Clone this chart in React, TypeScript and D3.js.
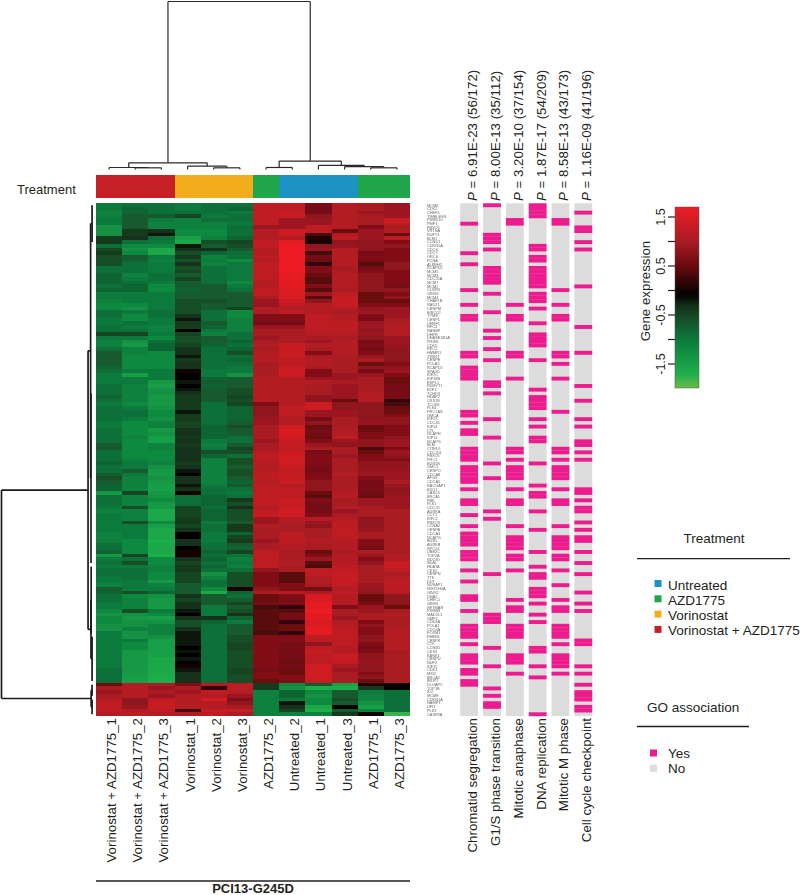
import * as d3 from 'd3';

const sampleLabels = [
  'Vorinostat + AZD1775_1', 'Vorinostat + AZD1775_2', 'Vorinostat + AZD1775_3',
  'Vorinostat_1', 'Vorinostat_2', 'Vorinostat_3',
  'AZD1775_2', 'Untreated_2', 'Untreated_1', 'Untreated_3', 'AZD1775_1', 'AZD1775_3'
];
const sampleTreatment = ['combo', 'combo', 'combo', 'vor', 'vor', 'vor', 'azd', 'unt', 'unt', 'unt', 'azd', 'azd'];

const treatmentKeys = ['unt', 'azd', 'vor', 'combo'];
const treatmentNames = ['Untreated', 'AZD1775', 'Vorinostat', 'Vorinostat + AZD1775'];
const treatmentColors = ['#1c93c2', '#1fa64b', '#f3ad1c', '#c61f26'];

const geneLabels = [
  'MCM6', 'CDK2', 'CHEK1', 'TIMELESS', 'PSMD10', 'PMF1', 'FBXO5', 'VRTNA', 'RUFY1', 'BLM1', 'CCND1', 'CDKN1A', 'CDC6', 'CDC7',
  'ORC6', 'PCNA', 'ALKBH2', 'RCAPD2', 'MCM5', 'MCM3', 'CDC25A', 'MCM7', 'MCM2', 'CLSPN', 'GINS3', 'MCM4', 'CHAF1B', 'RAD21',
  'CENPM', 'BIRC02', 'TYMS', 'CENP1', 'UHRF1', 'RFC3', 'RANBP', 'DHFR', 'DNASE2B1A', 'PRIM1', 'CDK5', 'RFC2', 'HMMR1', 'ZWINT',
  'CENPE', 'POLA2', 'RCAPD2', 'SPAG5', 'KIF2C', 'KIF18B', 'ESPL1', 'PKMYT1', 'E2F1', 'TCHD3', 'HDAP2', 'CKS1B', 'TCOB1', 'PLK4',
  'PRC1AS', 'GMCA', 'KIF23', 'CDC45', 'KIF14', 'CTL', 'NCAPH', 'KIF11', 'NCAPG', 'BLM', 'CITED1', 'CDC20L', 'FBXO5', 'PRC1',
  'BUB1B', 'GMC1', 'CENPO', 'CDCA8', 'AFG3', 'CDCA5', 'RACGAP1', 'EXO1', 'CASC5', 'BRCA1', 'PBK', 'PLK1', 'CDC25', 'AURKA',
  'CCT1', 'KIFC1', 'FBXO9', 'CCNA2', 'CENPA', 'CDCA3', 'NCAPG', 'BUB1', 'AURKB', 'SPC24', 'UBE2C', 'TOP2A', 'NDC80', 'SKA1',
  'HDATA', 'CKS2', 'CENPN', 'TTK', 'DUT', 'NUSAP1', 'HIST1H4A', 'GINS2', 'DNA2', 'CHEC1', 'GINS1', 'SETMAR', 'PSMB9', 'MAD2L1',
  'GMF1', 'CDK4A', 'POLA1', 'CDC6A', 'FOXM1', 'RHEB1', 'CENPK', 'CTK', 'CCNB1', 'CKS3', 'KANK1', 'CENPU', 'NUF2', 'KIF15',
  'CDK1', 'MSI2', 'BRCA2', 'BRIP1', 'DLGAP5', 'TOP1B', 'ID2', 'MCM8', 'CDKN1A', 'NAMPT', 'UFI1', 'PLK3', 'CASP8A', 'AGXE'
].slice(0, 139);

// expression values x10, one row per gene, columns in sampleLabels order
const heatValues = [
  [-10,-9,-9,-10,-9,-9,12,12,6,11,10,9],
  [-10,-8,-9,-10,-9,-8,12,12,6,11,10,9],
  [-11,-8,-9,-9,-9,-10,12,13,6,11,9,9],
  [-11,-7,-7,-5,-10,-9,12,13,8,11,10,9],
  [-10,-7,-10,-11,-9,-9,12,9,9,11,10,13],
  [-10,-7,-11,-11,-11,-10,12,9,9,11,10,13],
  [-13,-7,-11,-11,-11,-9,9,9,12,11,7,10],
  [-13,-4,-3,-12,-12,-9,11,14,12,5,9,11],
  [-13,-4,-2,-12,-12,-9,11,14,3,11,9,5],
  [-4,-3,-9,-15,-11,-8,11,11,1,12,9,12],
  [-4,-9,-10,-16,-6,-5,12,16,0,8,8,7],
  [-9,-12,-12,-2,-7,-6,12,17,8,9,8,8],
  [-5,-13,-16,-3,-3,-7,11,17,9,11,8,7],
  [-4,-12,-16,-6,-8,-9,11,17,3,11,6,7],
  [-6,-7,-10,-4,-11,-9,12,17,6,11,7,7],
  [-6,-8,-11,-6,-10,-12,11,17,5,11,6,7],
  [-6,-9,-10,-3,-11,-10,12,17,2,11,4,8],
  [-9,-9,-10,-6,-9,-10,12,17,7,10,6,8],
  [-9,-9,-10,-5,-9,-10,12,17,7,10,7,7],
  [-8,-11,-9,-7,-9,-10,12,16,5,11,8,7],
  [-8,-10,-9,-5,-9,-10,12,16,4,11,8,7],
  [-8,-9,-10,-7,-9,-12,11,16,4,11,8,7],
  [-9,-8,-12,-7,-7,-10,11,16,7,11,8,6],
  [-8,-8,-12,-8,-7,-9,12,15,4,10,8,8],
  [-10,-10,-10,-7,-7,-7,12,15,9,12,5,7],
  [-10,-10,-10,-7,-7,-7,10,15,4,13,5,8],
  [-11,-10,-10,-6,-6,-7,9,14,8,13,5,5],
  [-12,-12,-10,-6,-7,-7,9,12,11,13,7,7],
  [-12,-13,-10,-6,-7,-5,11,11,11,11,8,9],
  [-9,-10,-9,-6,-9,-12,10,12,11,10,9,9],
  [-9,-12,-9,-3,-9,-12,7,7,12,11,7,9],
  [-10,-12,-10,-2,-9,-11,7,7,12,11,6,10],
  [-10,-9,-10,-4,-7,-11,6,6,12,12,9,10],
  [-9,-10,-11,-4,-8,-11,9,9,12,12,9,11],
  [-9,-9,-11,-1,-10,-11,10,10,12,12,8,11],
  [-5,-5,-10,-5,-11,-9,10,10,11,11,9,11],
  [-10,-10,-12,-6,-7,-9,9,10,10,10,8,9],
  [-11,-13,-9,-6,-7,-8,10,10,9,11,6,9],
  [-11,-14,-8,-5,-8,-9,11,13,11,11,7,9],
  [-9,-11,-8,-3,-9,-8,10,13,10,11,6,8],
  [-7,-11,-12,-3,-9,-6,11,13,7,11,7,8],
  [-7,-12,-12,-2,-9,-9,11,13,10,10,9,8],
  [-7,-12,-12,-4,-9,-8,11,12,11,10,10,8],
  [-7,-12,-12,-3,-9,-9,10,12,11,10,5,7],
  [-8,-12,-12,-3,-9,-10,10,13,10,10,8,8],
  [-9,-10,-10,0,-10,-10,10,14,7,10,6,9],
  [-10,-15,-10,-1,-10,-13,10,13,7,9,9,7],
  [-10,-10,-10,-1,-8,-7,11,11,9,9,10,5],
  [-10,-10,-14,-2,-7,-7,11,11,11,10,10,5],
  [-9,-11,-15,-1,-8,-7,11,11,10,9,10,6],
  [-9,-11,-13,-2,-7,-6,11,11,10,9,10,6],
  [-9,-11,-13,-3,-7,-6,11,11,10,9,11,6],
  [-8,-11,-14,-4,-7,-5,11,11,8,9,11,6],
  [-9,-11,-14,-4,-7,-6,11,11,8,5,11,2],
  [-10,-12,-14,-4,-9,-5,7,11,14,8,8,3],
  [-9,-10,-13,-4,-9,-8,8,12,14,8,8,5],
  [-9,-9,-12,-2,-9,-8,8,12,9,9,8,5],
  [-9,-9,-12,-4,-9,-8,8,12,9,9,8,7],
  [-9,-10,-13,-4,-9,-8,9,11,6,10,8,8],
  [-10,-12,-11,-5,-9,-7,9,11,8,10,9,8],
  [-10,-12,-11,-5,-8,-6,10,14,5,10,5,7],
  [-9,-12,-14,-3,-8,-7,10,15,6,11,5,7],
  [-9,-12,-13,-3,-8,-7,10,15,6,11,7,7],
  [-9,-11,-15,-4,-8,-9,10,14,5,12,7,8],
  [-9,-12,-15,-3,-10,-9,9,13,7,9,8,9],
  [-7,-12,-11,-4,-11,-7,10,13,9,8,8,9],
  [-7,-12,-11,-3,-10,-5,10,12,10,10,3,7],
  [-9,-12,-12,-3,-6,-6,11,13,6,10,5,9],
  [-9,-12,-12,-3,-8,-9,12,14,7,9,7,8],
  [-9,-11,-12,-3,-11,-6,12,14,7,10,7,7],
  [-8,-10,-11,-4,-11,-6,11,14,7,10,8,8],
  [-9,-10,-13,-3,-11,-7,11,13,6,10,8,8],
  [-9,-7,-14,-2,-11,-6,11,12,6,10,9,9],
  [-7,-10,-14,-1,-11,-6,12,13,7,11,9,9],
  [-6,-11,-13,-3,-11,-7,12,13,7,10,7,9],
  [-7,-11,-14,-3,-11,-8,11,13,8,10,6,10],
  [-8,-11,-15,-2,-10,-7,12,11,8,10,6,9],
  [-8,-11,-15,-3,-9,-9,12,12,8,10,6,8],
  [-14,-5,-14,0,-9,-10,12,12,5,11,6,8],
  [-9,-11,-13,-9,-8,-9,12,12,4,11,5,9],
  [-9,-11,-12,-9,-8,-4,12,13,7,10,9,9],
  [-9,-11,-14,-9,-8,-6,12,13,6,10,9,9],
  [-10,-6,-14,-5,-9,-3,11,13,6,11,10,9],
  [-11,-11,-16,-5,-8,-6,12,14,6,9,10,10],
  [-10,-11,-16,-5,-8,-6,13,14,7,10,10,10],
  [-10,-11,-16,-4,-8,-6,9,11,11,11,8,10],
  [-10,-6,-12,-4,-10,-7,9,11,9,12,8,10],
  [-10,-10,-15,-5,-9,-4,11,10,8,12,8,10],
  [-10,-10,-16,-3,-9,-4,10,10,10,12,9,10],
  [-11,-10,-16,-1,-10,-8,10,12,10,12,10,10],
  [-11,-10,-16,-1,-10,-5,10,12,10,12,10,10],
  [-11,-12,-17,-3,-10,-4,9,12,11,11,7,10],
  [-9,-12,-16,-3,-9,-7,10,11,10,11,7,10],
  [-9,-12,-16,-1,-9,-8,10,11,10,11,6,10],
  [-8,-12,-16,0,-8,-5,12,10,5,10,10,10],
  [-14,-5,-17,0,-9,-9,12,10,7,11,9,11],
  [-10,-9,-12,-3,-8,-11,12,10,9,11,7,11],
  [-9,-6,-12,-5,-9,-10,12,11,4,11,8,13],
  [-10,-10,-11,-4,-8,-11,12,10,3,12,10,13],
  [-9,-9,-11,-4,-9,-9,8,10,12,12,10,12],
  [-9,-9,-12,-5,-13,-6,7,4,12,13,10,10],
  [-10,-9,-12,-5,-11,-6,7,4,11,13,10,11],
  [-10,-10,-14,-5,-9,-6,7,4,11,13,10,12],
  [-11,-10,-11,-7,-9,-6,7,7,10,12,9,12],
  [-7,-10,-10,-7,-12,0,8,7,6,11,9,12],
  [-8,-6,-8,-7,-16,-8,10,11,10,12,8,11],
  [-9,-12,-13,-3,-7,-9,5,7,15,11,5,8],
  [-9,-11,-14,-5,-7,-7,5,6,15,11,5,8],
  [-10,-11,-14,-3,-7,-5,6,7,16,11,6,8],
  [-10,-11,-14,-3,-10,-7,3,2,16,7,9,5],
  [-12,-6,-10,-2,-10,-6,4,4,17,10,9,10],
  [-13,-13,-12,-1,-10,-3,4,6,16,10,10,11],
  [-12,-14,-15,-3,-3,-8,4,6,16,9,10,10],
  [-12,-13,-13,-6,-8,-10,4,2,15,11,7,10],
  [-13,-13,-11,-6,-9,-7,4,5,15,11,8,10],
  [-13,-11,-11,-3,-9,-7,4,5,16,12,7,11],
  [-10,-13,-11,-2,-9,-7,3,2,16,12,7,11],
  [-10,-13,-13,-2,-9,-6,7,7,12,12,8,11],
  [-10,-10,-15,-2,-9,-6,7,7,12,12,8,11],
  [-10,-12,-15,-2,-9,-5,7,6,8,12,7,11],
  [-10,-12,-15,-1,-9,-5,7,6,12,11,6,11],
  [-10,-14,-15,-2,-9,-6,7,6,13,11,7,10],
  [-10,-14,-15,-1,-9,-6,7,6,12,13,8,10],
  [-10,-14,-16,-2,-9,-6,7,6,12,13,8,10],
  [-10,-14,-16,-1,-9,-6,7,5,12,12,9,10],
  [-10,-14,-16,0,-9,-6,7,6,14,10,8,10],
  [-9,-14,-16,-2,-9,-5,6,5,14,9,8,10],
  [-9,-14,-16,-3,-9,-5,7,5,14,10,7,10],
  [-9,-15,-17,-3,-9,-6,7,7,14,10,8,10],
  [-9,-15,-17,-3,-9,-6,5,7,13,10,5,10],
  [5,11,10,7,11,12,-4,-12,-7,-15,1,-1],
  [10,11,9,10,2,12,-4,-13,-17,-17,-4,-1],
  [9,11,10,9,12,11,-11,-8,-12,-7,-10,-9],
  [10,11,9,11,11,9,-11,-8,-13,-7,-11,-9],
  [11,8,12,11,15,7,-11,-10,-12,-6,-11,-9],
  [12,8,13,11,11,8,-11,-2,-12,-7,-13,-9],
  [12,9,13,11,11,10,-11,-3,-16,-1,-15,-9],
  [12,11,12,3,13,13,-11,-5,-17,-7,-11,-9],
  [11,12,11,11,12,10,-11,-11,-11,-4,0,-18]
];

const goTerms = ['Chromatid segregation', 'G1/S phase transition', 'Mitotic anaphase', 'DNA replication', 'Mitotic M phase', 'Cell cycle checkpoint'];
const goPvalues = [
  ' = 6.91E-23 (56/172)', ' = 8.00E-13 (35/112)', ' = 3.20E-10 (37/154)',
  ' = 1.87E-17 (54/209)', ' = 8.58E-13 (43/173)', ' = 1.16E-09 (41/196)'
];
const chromatidRows = [5,13,16,23,27,30,31,40,41,44,45,46,47,56,57,59,61,62,66,67,68,69,71,72,73,74,75,77,80,81,84,87,89,90,91,92,94,95,96,99,102,106,107,110,114,115,116,117,119,122,123,124,126,127,129,130];
const g1sRows = [0,8,9,10,12,17,18,19,20,21,24,29,34,36,39,42,48,49,51,58,63,70,74,83,85,100,111,112,113,120,125,131,133,135,136];
const anaphaseRows = [4,5,27,30,31,40,41,47,66,67,69,71,72,73,74,77,80,81,87,90,91,92,93,95,96,99,107,109,110,114,115,116,117,122,123,124,127];
const dnaRows = [0,1,2,3,11,12,14,15,17,18,19,20,21,22,24,25,26,28,32,35,36,37,38,42,50,52,53,54,55,58,60,63,64,70,76,78,79,83,88,94,98,100,101,104,105,106,108,111,113,120,121,125,128,138];
const mPhaseRows = [4,5,23,27,30,31,40,41,43,47,56,66,67,69,71,72,73,74,77,80,81,87,90,91,92,93,95,96,99,103,107,109,110,114,115,116,117,119,122,123,124,125,127];
const checkpointRows = [2,6,7,10,12,22,33,40,49,53,58,60,64,65,67,69,77,78,80,82,83,86,88,90,91,94,97,100,105,108,110,118,119,125,127,130,132,133,134,136,137];
const goRows = [chromatidRows, g1sRows, anaphaseRows, dnaRows, mPhaseRows, checkpointRows];

const scaleTicks = [1.5, 1, 0.5, 0, -0.5, -1, -1.5];
const scaleStops = [-2, -1.7, -1, -0.55, -0.3, -0.1, 0.5, 1, 1.7];
const scaleColors = ['#6abd45', '#1fae4b', '#0a7a3c', '#164a25', '#14301a', '#000000', '#6a0a0e', '#a81c24', '#ed1c24'];

const goLegend = [['Yes', '#ec1c8e'], ['No', '#dcdcdc']];

// merge heights as a percent of the tallest branch
const colTree = {
  h: 100, children: [
    { h: 4, children: [{ h: 1.2, children: [{ leaf: 0 }, { h: 1, children: [{ leaf: 1 }, { leaf: 2 }] }] }, { h: 2, children: [{ leaf: 3 }, { h: 1, children: [{ leaf: 4 }, { leaf: 5 }] }] }] },
    { h: 5, children: [{ h: 1.2, children: [{ leaf: 6 }, { leaf: 7 }] }, { h: 2.4, children: [{ leaf: 8 }, { h: 1.7, children: [{ leaf: 9 }, { h: 1, children: [{ leaf: 10 }, { leaf: 11 }] }] }] }] }
  ]
};
// the lowest merges are too dense to read, so each block is kept as a row span
const rowTree = {
  h: 100, children: [
    { h: 5.4, children: [
      { h: 2.6, children: [{ h: 1, from: 0, to: 10 }, { h: 2.2, from: 51, to: 97 }] },
      { h: 2.2, children: [{ h: 2, from: 98, to: 116 }, { h: 1, from: 117, to: 129 }] }
    ] },
    { h: 2, children: [{ h: 1, from: 130, to: 133 }, { h: 1, from: 134, to: 138 }] }
  ]
};

const width = 800;
const height = 895;
const font = '"Liberation Sans", Arial, sans-serif';
const labelSize = 13.3;
const legendSize = 13.5;

const xCol = d3.scaleBand().domain(d3.range(12)).range([96, 410]);
const yRow = d3.scaleBand().domain(d3.range(139)).range([203.3, 716]);
const xGo = d3.scaleBand().domain(d3.range(6)).range([458, 594.5]).paddingInner(0.22).paddingOuter(0.1);
const yColTree = d3.scaleLinear().domain([0, 100]).range([169.5, 1.5]);
const xRowTree = d3.scaleLinear().domain([0, 100]).range([93, 1.5]);
const yLegend = d3.scaleLinear().domain([1.5, -1.5]).range([217, 364]);

const heatColor = d3.scaleLinear<string>().domain(scaleStops).range(scaleColors).interpolate(d3.interpolateRgb).clamp(true);

function treeSegments(tree: any, leafPos: (n: any) => number) {
  const root = d3.hierarchy(tree);
  const segs: { p0: number; p1: number; h0: number; h1: number }[] = [];
  root.eachAfter((n: any) => {
    if (n.children) {
      n.pos = d3.mean(n.children, (c: any) => c.pos);
      const [a, b] = n.children;
      segs.push({ p0: a.pos, p1: b.pos, h0: n.data.h, h1: n.data.h });
      n.children.forEach((c: any) => segs.push({ p0: c.pos, p1: c.pos, h0: n.data.h, h1: c.data.h ?? 0 }));
    } else {
      n.pos = leafPos(n.data);
      if (n.data.from !== undefined) {
        segs.push({
          p0: yRow(n.data.from)! + yRow.bandwidth() / 2,
          p1: yRow(n.data.to)! + yRow.bandwidth() / 2,
          h0: n.data.h,
          h1: n.data.h
        });
      }
    }
  });
  return segs;
}

const colSegs = treeSegments(colTree, (d) => xCol(d.leaf)! + xCol.bandwidth() / 2);
const rowSegs = treeSegments(rowTree, (d) => (yRow(d.from)! + yRow(d.to)! + yRow.bandwidth()) / 2);

export default function App() {
  const legendTop = 207;
  const legendBottom = 388;
  const legendValue = d3.scaleLinear().domain([legendTop, legendBottom]).range([yLegend.invert(legendTop), yLegend.invert(legendBottom)]);

  return (
    <svg width={width} height={height} style={{ position: 'absolute', left: 0, top: 0, fontFamily: font }} fill="#231f20">
      <defs>
        <linearGradient id="expr" x1="0" y1="0" x2="0" y2="1">
          {d3.range(0, 41).map((i) => {
            const t = i / 40;
            return <stop key={i} offset={t} stopColor={heatColor(legendValue(legendTop + t * (legendBottom - legendTop)))} />;
          })}
        </linearGradient>
        <filter id="soft" x="-2%" y="-2%" width="104%" height="104%">
          <feGaussianBlur stdDeviation="0.55" />
        </filter>
      </defs>

      {/* column dendrogram */}
      <g stroke="#2a2a2a" strokeWidth={1.2} fill="none">
        {colSegs.map((s, i) => (
          <line key={i} x1={s.p0} x2={s.p1} y1={yColTree(s.h0)} y2={yColTree(s.h1)} />
        ))}
      </g>

      {/* row dendrogram */}
      <g stroke="#1a1a1a" strokeWidth={1.7} fill="none">
        {rowSegs.map((s, i) => (
          <line key={i} x1={xRowTree(s.h0)} x2={xRowTree(s.h1)} y1={s.p0} y2={s.p1} />
        ))}
      </g>

      {/* treatment bar */}
      <text x={17} y={194} fontSize={13}>Treatment</text>
      <g shapeRendering="crispEdges">
        {sampleTreatment.map((t, i) => (
          <rect key={i} x={xCol(i)} y={175} width={xCol.bandwidth() + 0.3} height={23} fill={treatmentColors[treatmentKeys.indexOf(t)]} />
        ))}
      </g>

      {/* heatmap */}
      <g filter="url(#soft)">
        <g shapeRendering="crispEdges">
          {heatValues.map((row, r) =>
            row.map((v, c) => (
              <rect
                key={`${r}-${c}`}
                x={xCol(c)}
                y={yRow(r)}
                width={xCol.bandwidth() + 0.3}
                height={yRow.bandwidth() + 0.3}
                fill={heatColor(v / 10)}
              />
            ))
          )}
        </g>
      </g>

      {/* sample labels */}
      {sampleLabels.map((label, i) => (
        <text
          key={label}
          transform={`translate(${xCol(i)! + xCol.bandwidth() / 2 + 7},718) rotate(-90)`}
          textAnchor="end"
          fontSize={labelSize}
        >
          {label}
        </text>
      ))}
      <line x1={96} x2={410} y1={881} y2={881} stroke="#231f20" strokeWidth={1.4} />
      <text x={253} y={893} textAnchor="middle" fontSize={13} fontWeight="bold">PCI13-G245D</text>

      {/* gene labels */}
      <g opacity={0.99}>
        {geneLabels.map((gene, r) => (
          <text key={r} x={427} y={yRow(r)! + yRow.bandwidth() / 2 + 1.4} fontSize={3.9} fill="#666">
            {gene}
          </text>
        ))}
      </g>

      {/* GO strips */}
      {goTerms.map((term, g) => (
        <g key={term}>
          <g filter="url(#soft)">
            <rect x={xGo(g)} y={yRow(0)} width={xGo.bandwidth()} height={yRow.bandwidth() * 139} fill={goLegend[1][1]} />
            {goRows[g].map((r) => (
              <rect key={r} x={xGo(g)} y={yRow(r)} width={xGo.bandwidth()} height={yRow.bandwidth() + 0.2} fill={goLegend[0][1]} />
            ))}
          </g>
          <text
            transform={`translate(${xGo(g)! + xGo.bandwidth() / 2 + 8},718) rotate(-90)`}
            textAnchor="end"
            fontSize={labelSize}
          >
            {term}
          </text>
          <text
            transform={`translate(${xGo(g)! + xGo.bandwidth() / 2 + 8},201) rotate(-90)`}
            fontSize={labelSize}
          >
            <tspan fontStyle="italic">P</tspan>
            {goPvalues[g]}
          </text>
        </g>
      ))}

      {/* colour scale */}
      <rect x={675} y={legendTop} width={24} height={legendBottom - legendTop} fill="url(#expr)" stroke="#555" strokeWidth={0.5} />
      {scaleTicks.map((t, i) => (
        <g key={t}>
          <line x1={668} x2={675} y1={yLegend(t)} y2={yLegend(t)} stroke="#231f20" strokeWidth={1.2} />
          {i % 2 === 0 && (
            <text transform={`translate(665,${yLegend(t)}) rotate(-90)`} textAnchor="middle" fontSize={12.5}>
              {t.toFixed(1)}
            </text>
          )}
        </g>
      ))}
      <text transform="translate(650,291) rotate(-90)" textAnchor="middle" fontSize={13.3}>Gene expression</text>

      {/* treatment legend */}
      <text x={714} y={543} textAnchor="middle" fontSize={legendSize}>Treatment</text>
      <line x1={637} x2={790} y1={558.6} y2={558.6} stroke="#231f20" strokeWidth={1.4} />
      {treatmentNames.map((name, i) => (
        <g key={name}>
          <rect x={654.5} y={580 + i * 15.3} width={7} height={7} fill={treatmentColors[i]} />
          <text x={668} y={589.5 + i * 15.3} fontSize={legendSize}>{name}</text>
        </g>
      ))}

      {/* GO legend */}
      <text x={647} y={711.5} fontSize={legendSize}>GO association</text>
      <line x1={637} x2={749} y1={726.5} y2={726.5} stroke="#231f20" strokeWidth={1.4} />
      {goLegend.map(([name, color], i) => (
        <g key={name}>
          <rect x={650} y={749.5 + i * 15.3} width={7} height={7} fill={color} />
          <text x={668} y={757.5 + i * 15.3} fontSize={legendSize}>{name}</text>
        </g>
      ))}
    </svg>
  );
}
